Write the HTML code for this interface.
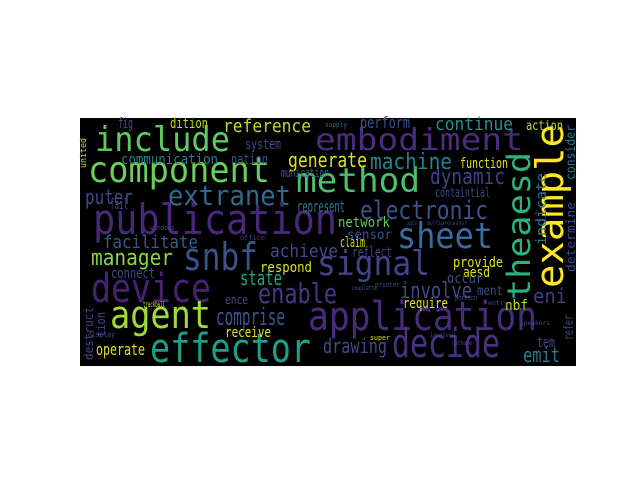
<!DOCTYPE html>
<html><head><meta charset="utf-8"><style>
html,body{margin:0;padding:0;background:#fff;width:640px;height:480px;overflow:hidden}
svg{display:block}
text{font-family:"DejaVu Sans Mono","Liberation Mono",monospace}
</style></head><body>
<svg id="c" width="640" height="480">
<rect x="80" y="118" width="496" height="248" fill="#000"/>
<g id="words"></g>
</svg>
<script>
// word, x, baseline y, font size, text length, color, rotated(1 = vertical)
const words = ["include","embodiment","component","method","example","theaesd","extranet","puter","publication","sheet","snbf","signal","electronic","dynamic","device","application","agent","effector","decide","enable","comprise","manager","facilitate","achieve","respond","state","ence","tion","destruct","operate","receive","trackball","connect","reference","dition","fig","system","communication","nation","generate","munication","machine","function","continue","perform","action","supply","consider","indicate","determine","containtial","represent","network","sensor","claim","reflect","provide","aesd","occur","involve","ment","require","nbf","eni","refer","tem","emit","drawing","united","fail","office","apple","multiprocessor","printer","couplette","involved","super","cathode","windows","portion","entry","speakers","display"];
const xs = [95,315,88,296,563,530,168,85,93,397,183,317,360,430,91,308,110,150,392,258,216,91,103,270,260,240,225,105,93,96,225,143,111,223,170,118,245,121,231,288,281,370,460,435,360,526,325,575,546,575,435,297,338,347,340,352,453,463,447,400,477,403,505,533,573,537,523,323,86,110,240,407,427,375,352,430,370,452,150,455,488,520,88];
const ys = [151,150,182,192,288,300,205,204,234,248,270,275,219,184,302,330,328,362,357,303,325,265,248,257,272,285,304,337,360,355,337,307,278,132,128,128,149,164,164,167,177,169,168,130,128,130,127,180,245,272,197,212,227,239,247,257,267,277,283,298,295,308,310,303,340,347,362,353,168,209,240,225,225,287,290,337,340,345,230,300,305,325,337];
const sizes = [34,30,36,34,38,32,28,20,42,36,38,34,26,22,40,40,38,40,40,28,24,22,18,18,14,20,12,12,12,16,14,8,14,18,14,14,14,14,14,20,12,22,14,18,16,13,7,13,14,12,13,16,14,13,14,14,14,14,14,22,13,14,14,20,13,14,20,20,9,14,7,6,6,7,6,6,7,6,7,7,6,6,8];
const lens = [135,208,182,124,164,148,123,48,244,96,75,113,128,75,120,229,101,161,108,79,69,82,95,68,52,42,23,25,53,49,46,22,44,88,38,15,36,97,37,79,48,82,48,78,50,37,22,55,72,70,55,48,52,45,25,40,50,27,36,72,26,45,23,34,25,18,37,64,30,18,25,10,40,25,25,25,20,20,25,22,20,30,27];
const colors = ["#5ec962","#472d7b","#6ccd5a","#4ac16d","#fde725","#2db27d","#31688e","#3e4a89","#482878","#3b6aa0","#3b528b","#414487","#3b528b","#424086","#482173","#472c7a","#a0da39","#1f9e89","#46327e","#443983","#3b528b","#86d549","#38598c","#3e4a89","#d8e219","#20a386","#3e4a89","#3e4a89","#3e4a89","#dde318","#e5e419","#c8e020","#3e4a89","#b5de2b","#bddf26","#3b528b","#3e4a89","#277f8e","#3e4a89","#d8e219","#35608d","#26828e","#dde318","#21918c","#3b528b","#bddf26","#2a788e","#29788e","#2a788e","#3e4a89","#3e4a89","#2a788e","#5ec962","#3b528b","#c8e020","#3e4a89","#dde318","#e5e419","#3b528b","#3e4a89","#3e4a89","#e5e419","#b5de2b","#443983","#3e4a89","#3e4a89","#2a788e","#3e4a89","#bddf26","#3e4a89","#433e85","#3e4a89","#3e4a89","#3e4a89","#38598c","#3e4a89","#d8e219","#3e4a89","#3e4a89","#3e4a89","#3e4a89","#3e4a89","#3e4a89"];
const vertical = [0,0,0,0,1,1,0,0,0,0,0,0,0,0,0,0,0,0,0,0,0,0,0,0,0,0,0,1,1,0,0,0,0,0,0,0,0,0,0,0,0,0,0,0,0,0,0,1,1,1,0,0,0,0,0,0,0,0,0,0,0,0,0,0,1,0,0,0,1,0,0,0,0,0,0,0,0,0,0,0,0,0,0];
const g = document.getElementById('words');
const NS = 'http://www.w3.org/2000/svg';
words.forEach((w, i) => {
  const t = document.createElementNS(NS, 'text');
  
  
  t.setAttribute('x', xs[i]);
  t.setAttribute('y', ys[i]);
  t.setAttribute('font-size', sizes[i]);
  t.setAttribute('fill', colors[i]);
  t.setAttribute('textLength', lens[i]);
  t.setAttribute('lengthAdjust', 'spacingAndGlyphs');
  if (vertical[i]) t.setAttribute('transform', 'rotate(-90 ' + xs[i] + ' ' + ys[i] + ')');
  t.textContent = w;
  g.appendChild(t);
});
</script>
</body></html>
